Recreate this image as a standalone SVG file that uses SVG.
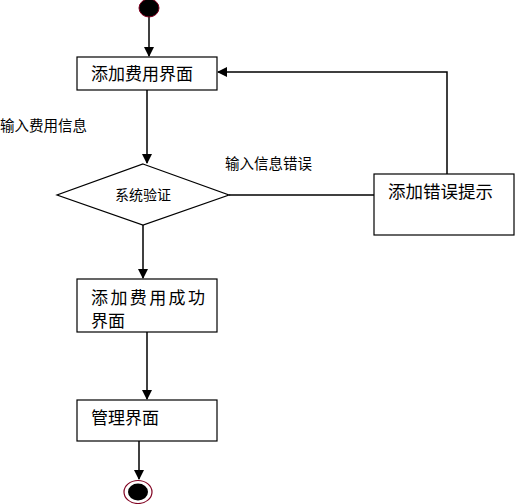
<svg xmlns="http://www.w3.org/2000/svg" width="515" height="504" viewBox="0 0 515 504">
<defs>
<marker id="arr" markerWidth="10" markerHeight="10" refX="9" refY="5" orient="auto" markerUnits="userSpaceOnUse">
<path d="M0,0 L10,5 L0,10 Z" fill="#000"/>
</marker>
<style>
.box{fill:#fff;stroke:#000;stroke-width:1.2}
.ln{fill:none;stroke:#000;stroke-width:1.5}
.t{font-family:"Liberation Sans","Noto Sans CJK SC",sans-serif;fill:#000}
.big{font-size:17px}
.sm{font-size:14.5px}
</style>
</defs>
<rect width="515" height="504" fill="#fff"/>
<g id="connectors">
<line class="ln" x1="149" y1="16" x2="149" y2="56" marker-end="url(#arr)"/>
<line class="ln" x1="147" y1="90" x2="147" y2="163" marker-end="url(#arr)"/>
<line class="ln" x1="229" y1="195" x2="374" y2="195"/>
<polyline class="ln" points="447,174 447,72 218,72" marker-end="url(#arr)"/>
<line class="ln" x1="143" y1="225" x2="143" y2="278" marker-end="url(#arr)"/>
<line class="ln" x1="147" y1="332" x2="147" y2="399" marker-end="url(#arr)"/>
<line class="ln" x1="139" y1="441" x2="139" y2="479" marker-end="url(#arr)"/>
<text class="t sm" x="0" y="131">输入费用信息</text>
<text class="t sm" x="225" y="169">输入信息错误</text>
</g>
<g id="start">
<ellipse cx="149" cy="8" rx="10" ry="9" fill="#000" stroke="#800020" stroke-width="1"/>
</g>
<g id="n1">
<rect class="box" x="77" y="57" width="140" height="33"/>
<text class="t big" x="91" y="80">添加费用界面</text>
</g>
<g id="decision">
<polygon class="box" points="143,164 229,195 143,225 57,195"/>
<text class="t" font-size="14" x="143" y="200" text-anchor="middle">系统验证</text>
</g>
<g id="error">
<rect class="box" x="374" y="174" width="140" height="61"/>
<text class="t" font-size="17.5" x="388" y="198">添加错误提示</text>
</g>
<g id="success">
<rect class="box" x="77" y="279" width="140" height="53"/>
<text class="t big" x="91" y="304" letter-spacing="2.4">添加费用成功</text>
<text class="t big" x="91" y="327">界面</text>
</g>
<g id="manage">
<rect class="box" x="77" y="400" width="140" height="41"/>
<text class="t big" x="91" y="424">管理界面</text>
</g>
<g id="end">
<ellipse cx="138" cy="492" rx="14" ry="11.5" fill="#fff" stroke="#800020" stroke-width="1.2"/>
<ellipse cx="138" cy="492" rx="10" ry="8.5" fill="#000"/>
</g>
</svg>
